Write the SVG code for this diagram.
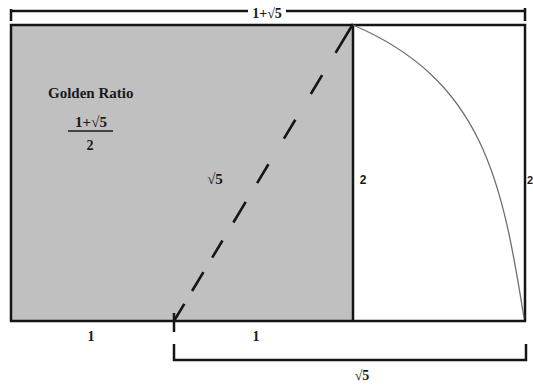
<svg xmlns="http://www.w3.org/2000/svg" width="533" height="386" viewBox="0 0 533 386">
<style>
.ln{stroke:#151515;stroke-width:2.5;fill:none;stroke-linecap:butt}
.sq{fill:#c0c0c0;stroke:none}
.t{font-family:"Liberation Serif","Times New Roman",serif;font-weight:bold;fill:#1a1a1a}
.s{font-family:"Liberation Sans",Arial,sans-serif;font-weight:bold;fill:#1a1a1a}
</style>
<rect width="533" height="386" fill="#ffffff"/>
<g id="square">
<rect x="11" y="25" width="342" height="296" class="sq"/>
</g>
<g id="rectangle">
<rect x="11" y="25" width="514" height="296" class="ln"/>
<line x1="353" y1="25" x2="353" y2="321" class="ln"/>
</g>
<g id="connectors">
<line x1="174" y1="321" x2="353" y2="24" stroke="#151515" stroke-width="2.6" stroke-dasharray="20 15 22 17 20 21 24 22 22 30 22 30 22 26 34"/>
<path d="M353,25 C482,80 502,179 524,318" fill="none" stroke="#6e6e6e" stroke-width="1.3"/>
<line x1="174" y1="313" x2="174" y2="332" class="ln"/>
<path d="M11,9 V21 M11,11 H525 M525,8 V21" class="ln"/>
<path d="M174,344 V360 H526 V344" class="ln"/>
</g>
<g id="top-label">
<rect x="248" y="3" width="38" height="17" fill="#ffffff"/>
<text x="267" y="18" text-anchor="middle" class="t" font-size="14">1+√5</text>
</g>
<g id="golden-ratio">
<text x="48" y="98" class="t" font-size="15">Golden Ratio</text>
<text x="91" y="127" text-anchor="middle" class="t" font-size="15">1+√5</text>
<line x1="68" y1="131" x2="113" y2="131" stroke="#1a1a1a" stroke-width="1.5"/>
<text x="90" y="150" text-anchor="middle" class="t" font-size="14">2</text>
</g>
<g id="labels">
<text x="215" y="184" text-anchor="middle" class="t" font-size="15">√5</text>
<text x="363" y="184" text-anchor="middle" class="s" font-size="12">2</text>
<text x="527" y="184" class="s" font-size="11">2</text>
<text x="91" y="341" text-anchor="middle" class="t" font-size="14">1</text>
<text x="256" y="341" text-anchor="middle" class="t" font-size="14">1</text>
<text x="362" y="380" text-anchor="middle" class="t" font-size="14">√5</text>
</g>
</svg>
